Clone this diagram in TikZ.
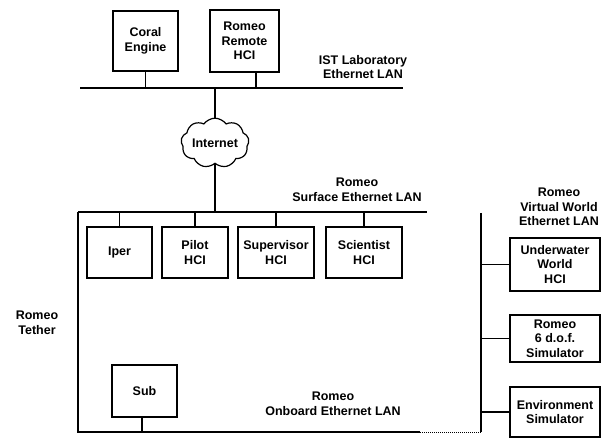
\documentclass[tikz,border=0pt]{standalone}
\usepackage{fontspec}
\setmainfont{Liberation Sans}
\usetikzlibrary{shapes.symbols}

\begin{document}
\begin{tikzpicture}[x=1pt, y=-1pt, line width=1.4pt, font=\fontsize{12.5}{14.5}\selectfont\bfseries]
\tikzset{
	unit/.style={draw, line width=1.2pt, align=center, inner sep=0pt, minimum width=#1},
	unit/.default=66pt,
	lanlabel/.style={align=center, inner sep=0pt}
}
\useasboundingbox (0,0) rectangle (608,438);

% IST laboratory side
\node[unit=65pt, minimum height=60pt] (coral) at (145.5,41) {Coral\\Engine};
\node[unit=69pt, minimum height=62pt] (remote) at (244.5,41) {Romeo\\Remote\\HCI};
\coordinate (istL) at (80,88);
\coordinate (istR) at (403,88);
\node[lanlabel] (istlab) at (363,67) {IST Laboratory\\Ethernet LAN};

\node[cloud, draw, line width=1.2pt, cloud puffs=9, cloud puff arc=110, aspect=1.6,
	minimum width=64pt, minimum height=40pt, inner sep=0pt] (net) at (215,143) {Internet};

% Surface LAN
\coordinate (surfL) at (78,212);
\coordinate (surfR) at (427,212);
\node[lanlabel] (surflab) at (357,190) {Romeo\\Surface Ethernet LAN};
\node[unit=65pt, minimum height=51pt] (iper) at (119.5,252.5) {Iper};
\node[unit=66pt, minimum height=51pt] (pilot) at (195,252.5) {Pilot\\HCI};
\node[unit=76pt, minimum height=51pt] (super) at (276,252.5) {Supervisor\\HCI};
\node[unit=76pt, minimum height=51pt] (sci) at (364,252.5) {Scientist\\HCI};

% Onboard LAN and tether
\coordinate (onbL) at (78,432);
\coordinate (onbM) at (420,432);
\coordinate (onbR) at (481,432);
\node[unit=65pt, minimum height=52pt] (sub) at (144.5,391) {Sub};
\node[lanlabel] (onblab) at (333,404) {Romeo\\Onboard Ethernet LAN};
\node[lanlabel] (tether) at (37,323) {Romeo\\Tether};

% Virtual world LAN
\coordinate (virtT) at (481,213);
\node[lanlabel] (virtlab) at (559,207) {Romeo\\Virtual World\\Ethernet LAN};
\node[unit=90pt, minimum height=53pt] (uw) at (555,264.5) {Underwater\\World\\HCI};
\node[unit=90pt, minimum height=47pt] (dof) at (555,338.5) {Romeo\\6 d.o.f.\\Simulator};
\node[unit=90pt, minimum height=50pt] (env) at (555,412) {Environment\\Simulator};

% LAN backbones
\draw (istL) -- (istR);
\draw (surfL) -- (surfR);
\draw (surfL) -- (onbL) -- (onbM);
\draw[line width=1pt, densely dotted] (onbM) -- (onbR);
\draw (virtT) -- (onbR);

% Taps
\draw (coral.south) -- (coral.south |- istL);
\draw ([xshift=11.5pt]remote.south) -- ([xshift=11.5pt]remote.south |- istL);
\draw (net.north |- istL) -- (net.north);
\draw (net.south) -- (net.south |- surfL);
\foreach \n in {iper, pilot, super, sci}
	\draw (\n.north) -- (\n.north |- surfL);
\draw ([xshift=-2.5pt]sub.south) -- ([xshift=-2.5pt]sub.south |- onbL);
\foreach \n in {uw, dof, env}
	\draw (\n.west) -- (\n.west -| virtT);

\end{tikzpicture}
\end{document}
